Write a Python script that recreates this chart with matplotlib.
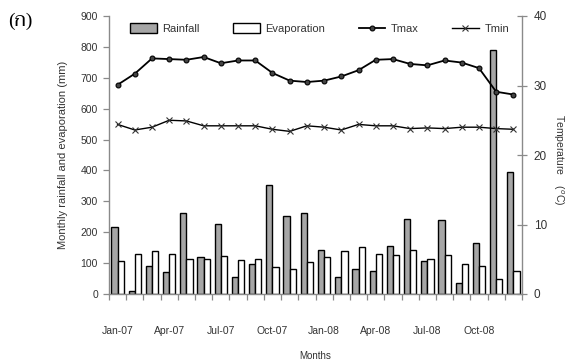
import matplotlib
matplotlib.use("Agg")
import matplotlib.pyplot as plt
from matplotlib.ticker import MultipleLocator, FixedLocator
import numpy as np

months = ["Jan-07", "Feb-07", "Mar-07", "Apr-07", "May-07", "Jun-07", "Jul-07", "Aug-07",
          "Sep-07", "Oct-07", "Nov-07", "Dec-07", "Jan-08", "Feb-08", "Mar-08", "Apr-08",
          "May-08", "Jun-08", "Jul-08", "Aug-08", "Sep-08", "Oct-08", "Nov-08", "Dec-08"]
rainfall = [218, 11, 92, 71, 261, 120, 226, 54, 96, 352, 254, 263,
            144, 54, 82, 76, 154, 242, 106, 239, 36, 165, 790, 394]
evaporation = [106, 131, 139, 131, 114, 114, 124, 109, 114, 87, 82, 102,
               120, 139, 152, 130, 127, 144, 114, 127, 98, 92, 49, 76]
tmax = [30.1, 31.7, 33.9, 33.8, 33.7, 34.1, 33.2, 33.6, 33.6, 31.8, 30.7, 30.5,
        30.7, 31.3, 32.2, 33.7, 33.8, 33.1, 32.9, 33.6, 33.3, 32.5, 29.1, 28.7]
tmin = [24.4, 23.6, 24.0, 25.0, 24.9, 24.2, 24.2, 24.2, 24.2, 23.7, 23.4, 24.2,
        24.0, 23.6, 24.4, 24.2, 24.2, 23.8, 23.9, 23.8, 24.0, 24.0, 23.8, 23.7]
label_every = 3

plt.rcParams['font.family'] = ['Liberation Sans', 'DejaVu Sans']
axcol = '#8a8a8a'
txtcol = '#333333'

fig = plt.figure(figsize=(5.66, 3.63), dpi=100)
ax = fig.add_axes([109/566, 1-294/363, (522-109)/566, (294-16)/363])
ax2 = ax.twinx()

x = np.arange(len(months))
w = 0.36
ax.bar(x - w/2, rainfall, width=w, color='#a6a6a6', edgecolor='black', linewidth=1.0, label='Rainfall')
ax.bar(x + w/2, evaporation, width=w, color='white', edgecolor='black', linewidth=1.0, label='Evaporation')

ax2.plot(x, tmax, color='black', lw=1.3, marker='o', ms=3.5, mfc='#444444', mec='black', mew=0.8, label='Tmax')
ax2.plot(x, tmin, color='black', lw=1.0, marker='x', ms=4.5, mec='#333333', mew=0.8, label='Tmin')

ax.set_xlim(-0.5, len(months) - 0.5)
ax.set_ylim(0, 900)
ax2.set_ylim(0, 40)
ax.yaxis.set_major_locator(MultipleLocator(100))
ax2.yaxis.set_major_locator(MultipleLocator(10))

ax.xaxis.set_major_locator(FixedLocator(x[::label_every]))
ax.set_xticklabels(months[::label_every])
ax.xaxis.set_minor_locator(FixedLocator(np.arange(-0.5, len(months), 1)))
ax.tick_params(axis='x', which='major', length=0, pad=23, labelsize=7.5, labelcolor=txtcol)
ax.tick_params(axis='x', which='minor', length=4, direction='out', color=axcol, width=0.9)
ax.tick_params(axis='y', length=4, direction='out', color=axcol, width=0.9, labelsize=7.5, labelcolor=txtcol, pad=4)
ax2.tick_params(axis='y', length=7, direction='inout', color=axcol, width=0.9, labelsize=8.5, labelcolor=txtcol, pad=5)

for a in (ax, ax2):
    a.spines['top'].set_visible(False)
    for s in ('left', 'right', 'bottom'):
        a.spines[s].set_color(axcol)
        a.spines[s].set_linewidth(1.0)
ax.spines['right'].set_visible(False)
ax2.spines['left'].set_visible(False)
ax2.spines['bottom'].set_visible(False)

ax.set_ylabel('Monthly rainfall and evaporation (mm)', fontsize=8, color=txtcol, labelpad=9)
fig.text(558/566, 1 - 160/363, 'Temperature    ($^{o}$C)', fontsize=7.5, color=txtcol,
         rotation=270, ha='center', va='center')
fig.text((109 + 522) / 2 / 566, 1 - 356/363, 'Months', fontsize=7, color=txtcol,
         ha='center', va='center')

h1, l1 = ax.get_legend_handles_labels()
h2, l2 = ax2.get_legend_handles_labels()
leg = ax2.legend(h1 + h2, l1 + l2, ncol=4, loc='upper center', bbox_to_anchor=(0.51, 1.01),
                 frameon=False, fontsize=8, handlelength=2.4, handleheight=1.0,
                 columnspacing=3.0, handletextpad=0.5)
for t in leg.get_texts():
    t.set_color(txtcol)

fig.text(8/566, 1-21/363, '(ก)', fontsize=14, va='center', ha='left',
         family=['Liberation Serif', 'Taviraj', 'Sarabun', 'Athiti', 'DejaVu Sans'])

fig.savefig('out.png', dpi=100)
